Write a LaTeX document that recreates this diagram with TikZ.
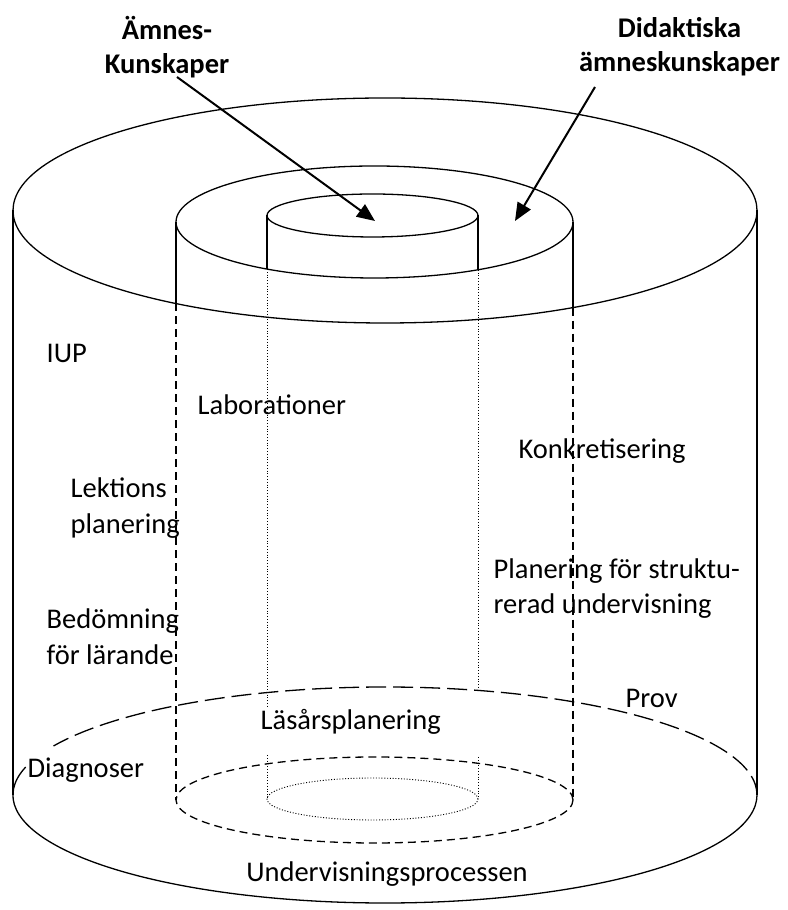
\documentclass[tikz,border=0pt]{standalone}
\usepackage{fontspec}
\setmainfont{Carlito}
\usetikzlibrary{arrows.meta,calc}
\begin{document}
\begin{tikzpicture}[x=1pt,y=1pt,
  line width=1.3pt,
  lbl/.style={inner sep=0pt, font=\fontsize{28.5}{35.5}\selectfont, align=left},
  blbl/.style={inner sep=0pt, font=\fontsize{28.5}{34}\selectfont\bfseries, align=center},
  shortdash/.style={line width=1.3pt, dash pattern=on 8pt off 5pt},
  longdash/.style={line width=1.3pt, dash pattern=on 20pt off 7pt},
  dotline/.style={line width=0.9pt, dash pattern=on 1pt off 1.8pt},
  pointer/.style={line width=2pt, -{Triangle[length=18pt,width=15pt]}}
]
\useasboundingbox (0,0) rectangle (787,910);

% centres of the ellipses
\coordinate (ot) at (385,699.5);
\coordinate (mt) at (374.5,688);
\coordinate (it) at (372.5,694.5);
\coordinate (ob) at (385,115);
\coordinate (mb) at (374.5,110);
\coordinate (ib) at (372.5,111);

% top ellipses
\draw (ot) ellipse[x radius=372,y radius=112.5];
\draw (mt) ellipse[x radius=198.5,y radius=56];
\draw (it) ellipse[x radius=105.5,y radius=21.5];

% outer cylinder
\draw (13,699.5) -- (13,115);
\draw (757,699.5) -- (757,115);
\draw[longdash] ($(ob)+(0:372 and 108)$) arc[start angle=0,end angle=153,x radius=372,y radius=108];
\draw ($(ob)+(165:372 and 108)$) arc[start angle=165,end angle=360,x radius=372,y radius=108];

% middle cylinder
\draw (176,688) -- (176,606.5);
\draw[shortdash] (176,606.5) -- (176,110);
\draw (573,688) -- (573,602.4);
\draw[shortdash] (573,602.4) -- (573,110);
\draw[shortdash] (mb) ellipse[x radius=198.5,y radius=43];

% inner cylinder
\draw (267,694.5) -- (267,640.9);
\draw[dotline] (267,640.9) -- (267,202);
\draw[dotline] (267,155) -- (267,111);
\draw (478,694.5) -- (478,640.2);
\draw[dotline] (478,640.2) -- (478,218);
\draw[dotline] (478,153) -- (478,111);
\draw[dotline] (ib) ellipse[x radius=105.5,y radius=21];

% labels
\node[blbl] (amnes) at (167,863) {Ämnes-\\Kunskaper};
\node[blbl] (didak) at (679.5,863) {Didaktiska\\ämneskunskaper};
\node[lbl,anchor=west] (iup) at (46,557) {IUP};
\node[lbl,anchor=west] (lab) at (197,505) {Laborationer};
\node[lbl,anchor=west] (konk) at (518,459) {Konkretisering};
\node[lbl,anchor=west] (lekt) at (70,402) {Lektions\\planering};
\node[lbl,anchor=west] (plan) at (493,321.5) {Planering för struktu-\\rerad undervisning};
\node[lbl,anchor=west] (bedo) at (46,273.5) {Bedömning\\för lärande};
\node[lbl,anchor=west] (prov) at (625,212) {Prov};
\node[lbl,anchor=west] (lasa) at (260,188) {Läsårsplanering};
\node[lbl,anchor=west] (diag) at (27,140) {Diagnoser};
\node[lbl] (underv) at (387,36) {Undervisningsprocessen};

% arrows
\coordinate (a1s) at (177,833);
\coordinate (a1e) at (375,689);
\coordinate (a2s) at (595,823);
\coordinate (a2e) at (515,689);
\draw[pointer] (a1s) -- (a1e);
\draw[pointer] (a2s) -- (a2e);
\end{tikzpicture}
\end{document}
